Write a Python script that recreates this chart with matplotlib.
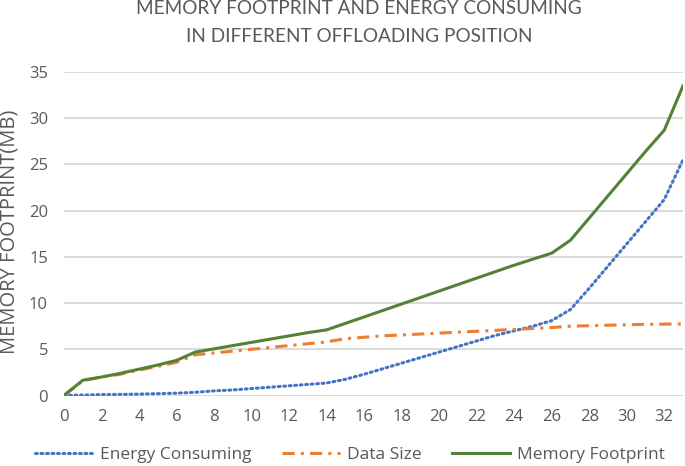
import matplotlib
matplotlib.use("Agg")
import matplotlib.pyplot as plt

positions = list(range(0, 34))
energy_consuming = [0.0, 0.05, 0.1, 0.12, 0.15, 0.2, 0.25, 0.35, 0.5, 0.6,
                    0.75, 0.9, 1.05, 1.2, 1.35, 1.75, 2.3, 2.9, 3.5, 4.1,
                    4.7, 5.3, 5.9, 6.5, 7.0, 7.5, 8.1, 9.3, 11.6, 14.0,
                    16.4, 18.8, 21.2, 25.5]
data_size = [0.0, 1.6, 2.0, 2.3, 2.75, 3.15, 3.6, 4.4, 4.6, 4.8,
             5.0, 5.2, 5.4, 5.6, 5.8, 6.15, 6.3, 6.45, 6.55, 6.65,
             6.75, 6.85, 6.95, 7.05, 7.15, 7.25, 7.35, 7.5, 7.55, 7.6,
             7.65, 7.7, 7.72, 7.75]
memory_footprint = [0.0, 1.65, 2.0, 2.4, 2.85, 3.3, 3.8, 4.7, 5.05, 5.4,
                    5.75, 6.1, 6.45, 6.8, 7.1, 7.8, 8.5, 9.2, 9.9, 10.6,
                    11.3, 12.0, 12.7, 13.4, 14.1, 14.75, 15.4, 16.8, 19.2, 21.6,
                    24.0, 26.4, 28.7, 33.5]
x_ticks = list(range(0, 33, 2))
y_ticks = list(range(0, 36, 5))

title = "MEMORY FOOTPRINT AND ENERGY CONSUMING\nIN DIFFERENT OFFLOADING POSITION"
ylabel = "MEMORY FOOTPRINT(MB)"

gray = "#595959"
fig = plt.figure(figsize=(6.85, 4.66), dpi=100)
ax = fig.add_axes([64 / 685, 70.5 / 466, (683 - 64) / 685, (395.5 - 72) / 466])

ax.plot(positions, energy_consuming, color="#4472C4", lw=2.2,
        linestyle=(0, (0.6, 1.2)), dash_capstyle="round", label="Energy Consuming")
ax.plot(positions, data_size, color="#ED7D31", lw=2.2,
        linestyle=(0, (4, 2, 1, 2)), label="Data Size")
ax.plot(positions, memory_footprint, color="#548235", lw=2.2,
        label="Memory Footprint")

ax.set_xlim(0, 33)
ax.set_ylim(0, 35)
ax.set_xticks(x_ticks)
ax.set_yticks(y_ticks)
ax.grid(axis="y", color="#D9D9D9", lw=1.3)
ax.set_axisbelow(True)
for s in ax.spines.values():
    s.set_visible(False)
ax.tick_params(axis="y", length=0, labelsize=12, labelcolor=gray, pad=11.5)
ax.tick_params(axis="x", length=0, labelsize=12, labelcolor=gray, pad=10)
for lab in ax.get_xticklabels() + ax.get_yticklabels():
    lab.set_family("Open Sans")

fig.text(10 / 685, 1 - 231.5 / 466, ylabel, rotation=90, ha="center", va="center",
         fontsize=14.5, color=gray, family="Open Sans")
fig.text(359 / 685, 1 - 22.7 / 466, title, ha="center", va="center",
         fontsize=13.7, color=gray, family="Lato", linespacing=1.75)

leg = fig.legend(loc="center", bbox_to_anchor=(350 / 685, 1 - 455 / 466), ncol=3,
                 frameon=False, handlelength=3.3, columnspacing=1.8, handletextpad=0.4,
                 prop={"family": "Open Sans", "size": 12.5})
for t in leg.get_texts():
    t.set_color(gray)

fig.savefig("out.png", dpi=100)
